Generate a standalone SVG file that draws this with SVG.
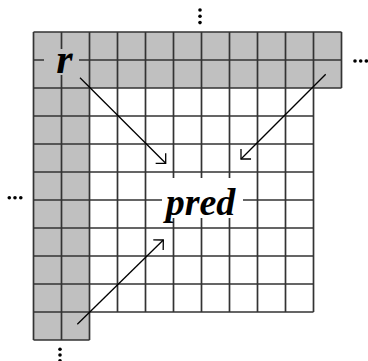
<svg xmlns="http://www.w3.org/2000/svg" width="368" height="361" viewBox="0 0 368 361">
<style>
.grid{stroke:#333;stroke-width:1.7;fill:none}
.gray{fill:#c0c0c0}
.arrow{stroke:#000;stroke-width:1.3;fill:none}
.lbl{font-family:"Liberation Serif",serif;font-weight:bold;font-style:italic;font-size:38px;fill:#000}
.dot{fill:#000}
</style>
<defs>
<marker id="head" markerUnits="userSpaceOnUse" markerWidth="20" markerHeight="20" refX="0" refY="0" viewBox="-10 -10 20 20" orient="auto" overflow="visible">
<path d="M-7.1,-7.1 L0,0 L-7.1,7.1" stroke="#000" stroke-width="1.3" fill="none"/>
</marker>
</defs>
<rect width="368" height="361" fill="#fff"/>
<g id="grid">
<path class="gray" d="M33.5,32 H341.5 V88 H89.5 V340 H33.5 Z"/>
<path class="grid" d="M33.5,32 V340 M61.5,32 V340 M89.5,32 V340 M117.5,32 V312 M145.5,32 V312 M173.5,32 V312 M201.5,32 V312 M229.5,32 V312 M257.5,32 V312 M285.5,32 V312 M313.5,32 V312 M341.5,32 V88 M33.5,32 H341.5 M33.5,60 H341.5 M33.5,88 H341.5 M33.5,116 H313.5 M33.5,144 H313.5 M33.5,172 H313.5 M33.5,200 H313.5 M33.5,228 H313.5 M33.5,256 H313.5 M33.5,284 H313.5 M33.5,312 H313.5 M33.5,340 H89.5"/>
</g>
<g id="dots">
<circle class="dot" cx="200" cy="10" r="1.8"/><circle class="dot" cx="200" cy="16.3" r="1.8"/><circle class="dot" cx="200" cy="22.6" r="1.8"/>
<circle class="dot" cx="355" cy="61" r="1.8"/><circle class="dot" cx="360.7" cy="61" r="1.8"/><circle class="dot" cx="366.3" cy="61" r="1.8"/>
<circle class="dot" cx="9.3" cy="197.7" r="1.8"/><circle class="dot" cx="15" cy="197.7" r="1.8"/><circle class="dot" cx="20.8" cy="197.7" r="1.8"/>
<circle class="dot" cx="60" cy="349.3" r="1.8"/><circle class="dot" cx="60" cy="355" r="1.8"/><circle class="dot" cx="60" cy="360.7" r="1.8"/>
</g>
<g id="r">
<rect x="44" y="49" width="35" height="26" fill="#c0c0c0"/>
<text class="lbl" x="64.5" y="73" text-anchor="middle" style="font-size:42px">r</text>
</g>
<g id="pred">
<rect x="162" y="178" width="81" height="40" fill="#fff"/>
<text class="lbl" x="200.5" y="215" text-anchor="middle">pred</text>
</g>
<g id="connectors">
<line class="arrow" x1="80" y1="77.7" x2="165.7" y2="163.3" marker-end="url(#head)"/>
<line class="arrow" x1="325.7" y1="74.3" x2="241" y2="159" marker-end="url(#head)"/>
<line class="arrow" x1="77.3" y1="324.3" x2="163.3" y2="240" marker-end="url(#head)"/>
</g>
</svg>
